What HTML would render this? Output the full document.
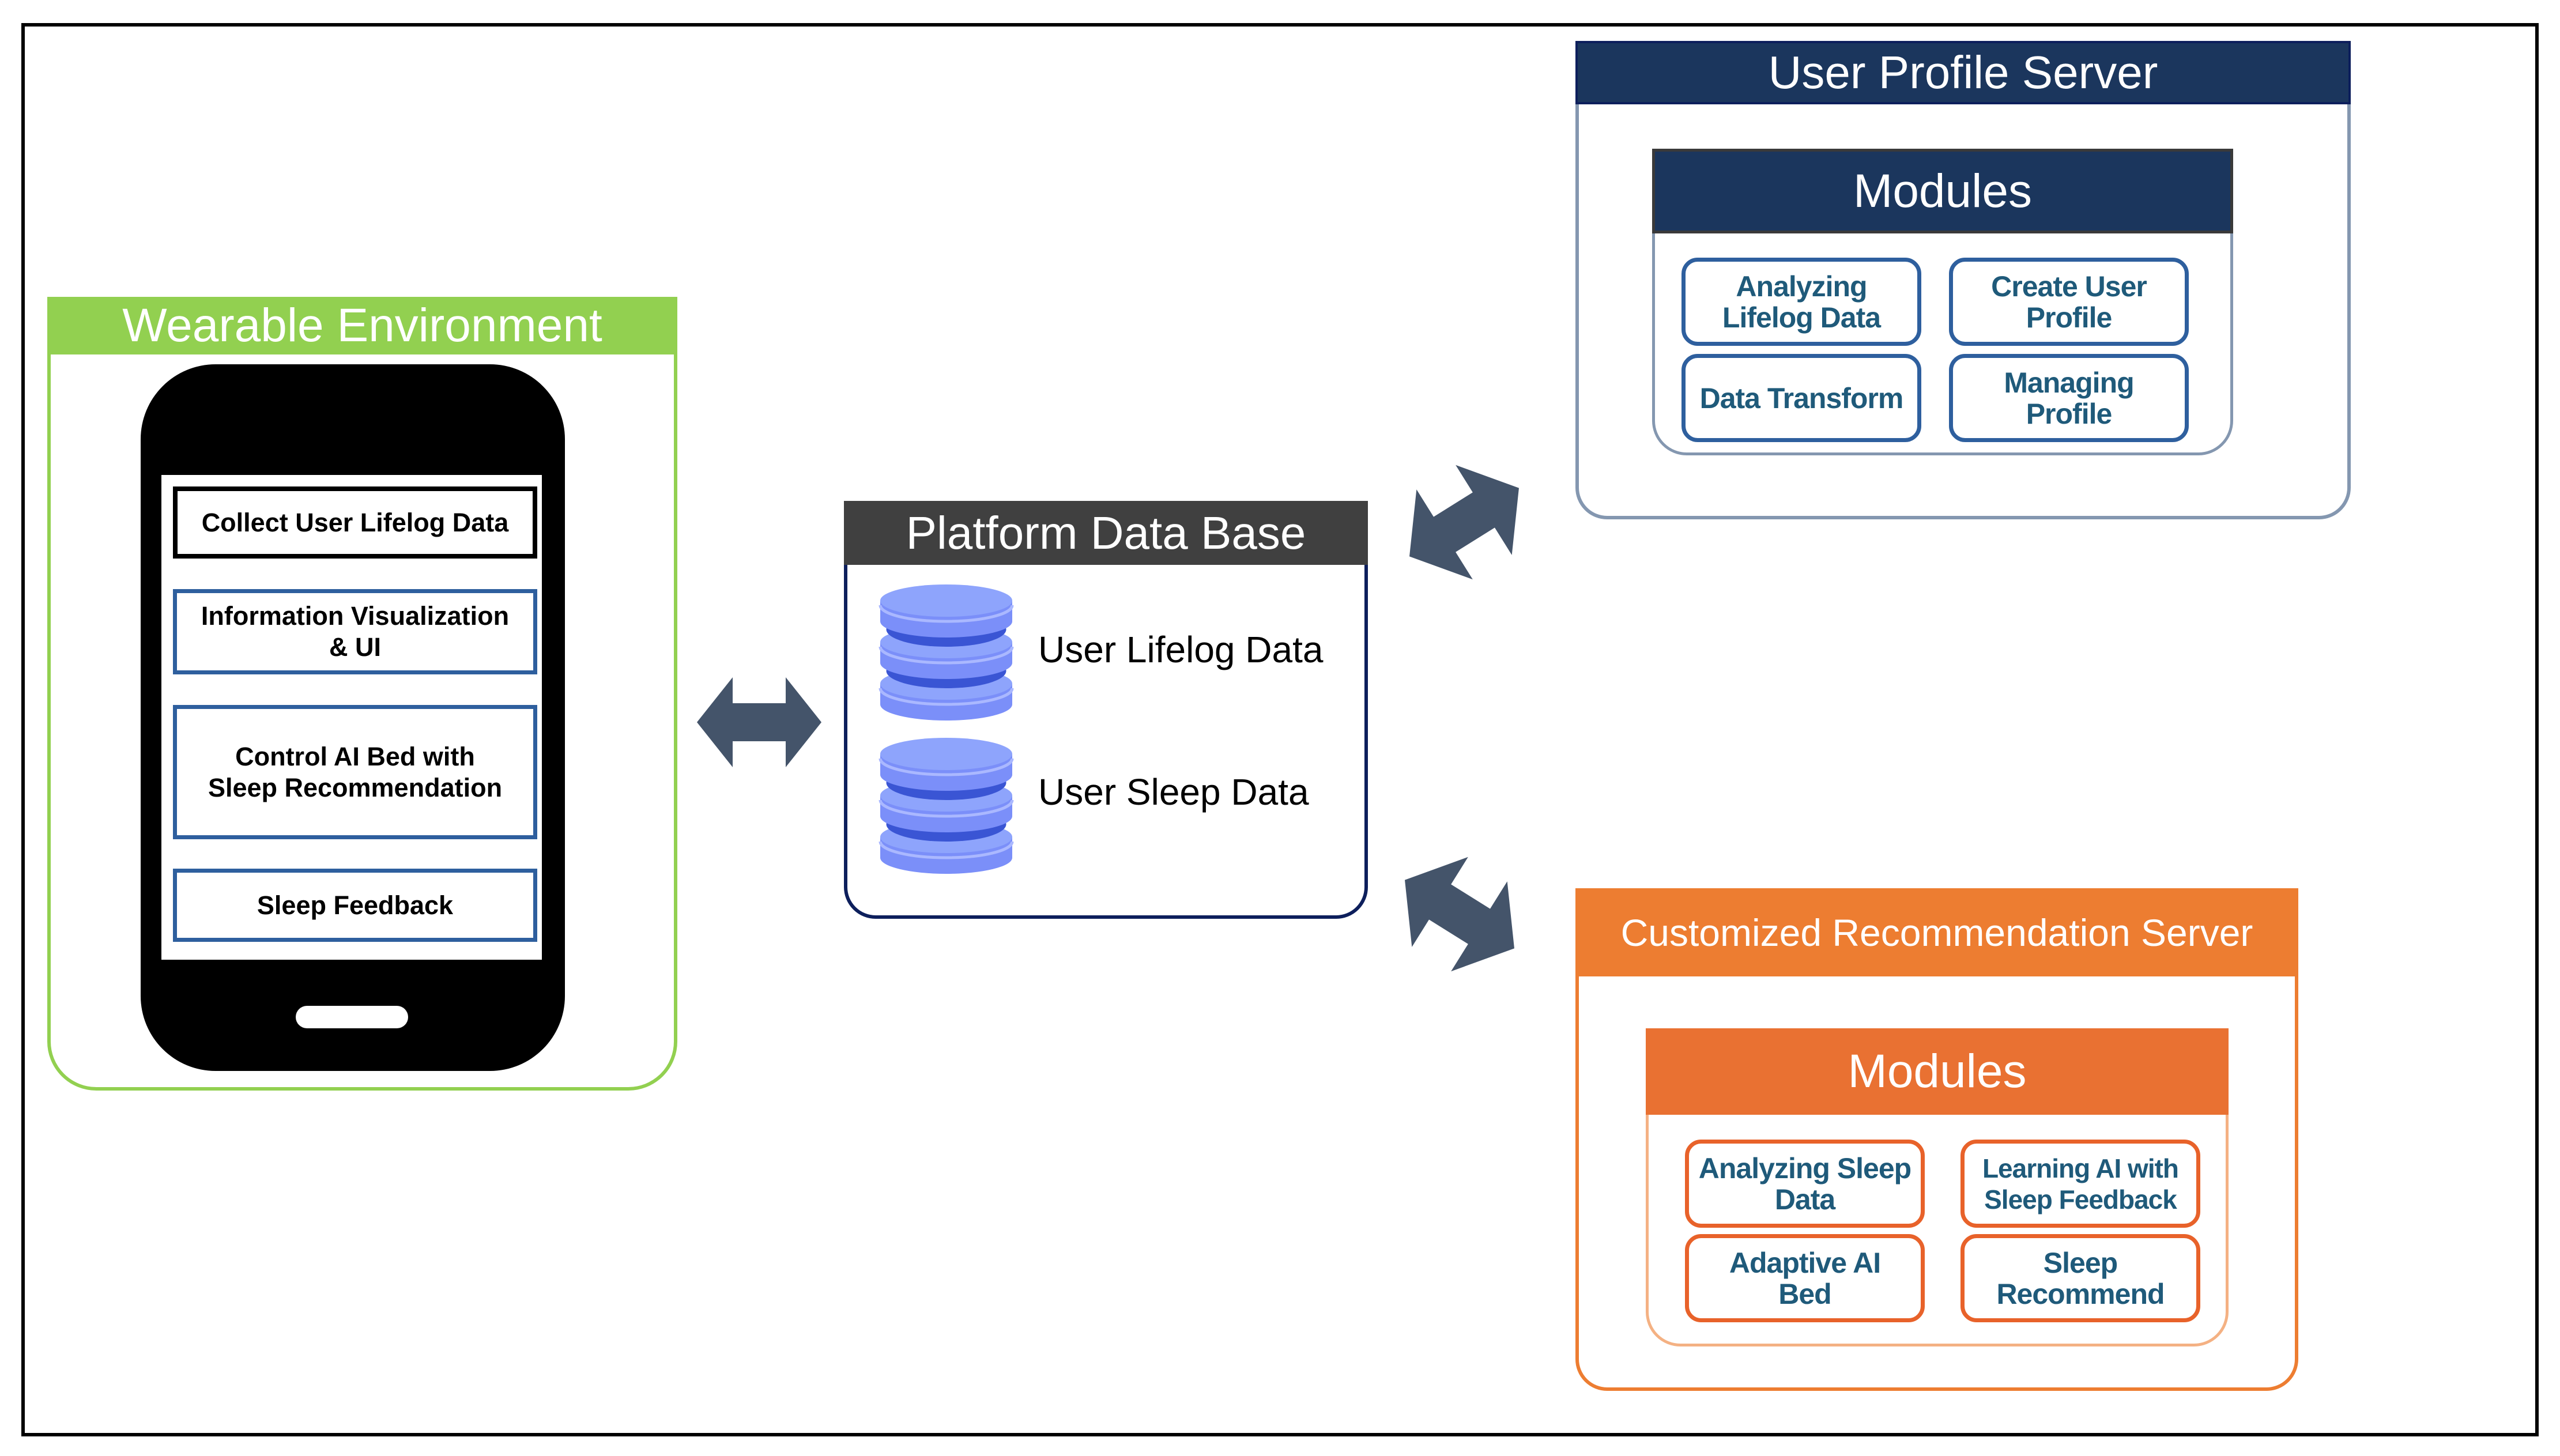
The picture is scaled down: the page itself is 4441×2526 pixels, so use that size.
<!DOCTYPE html>
<html><head><meta charset="utf-8"><style>
*{margin:0;padding:0;box-sizing:border-box}
body{width:4441px;height:2526px;background:#fff;position:relative;overflow:hidden;font-family:"Liberation Sans",sans-serif}
.a{position:absolute}
.c{display:flex;align-items:center;justify-content:center;text-align:center}
.pb{position:absolute;left:300px;width:632px;background:#fff;border:7px solid #2e5f9e;font-weight:bold;font-size:45px;line-height:54px;color:#000}
.mb{position:absolute;width:416px;height:153px;border:7px solid #2e5f9e;border-radius:28px;background:#fff;font-family:"Liberation Sans Narrow","Liberation Sans",sans-serif;font-weight:bold;font-size:50px;line-height:54px;color:#1f5a7a;letter-spacing:-1px}
.ob{border-color:#e8622a}
</style></head><body>
<div class="a" style="left:37px;top:40px;width:4367px;height:2452px;border:6px solid #000"></div>

<div class="a" style="left:82px;top:515px;width:1093px;height:1377px;border:6px solid #92d050;border-radius:0 0 85px 85px"></div>
<div class="a c" style="left:82px;top:515px;width:1093px;height:100px;background:#92d050;color:#fff;font-size:82px">Wearable Environment</div>
<div class="a" style="left:244px;top:632px;width:736px;height:1226px;background:#000;border-radius:130px"></div>
<div class="a" style="left:280px;top:824px;width:660px;height:841px;background:#fff"></div>
<div class="pb c" style="top:844px;height:125px;border-color:#000;border-width:8px">Collect User Lifelog Data</div>
<div class="pb c" style="top:1022px;height:148px">Information Visualization<br>&amp; UI</div>
<div class="pb c" style="top:1223px;height:233px">Control AI Bed with<br>Sleep Recommendation</div>
<div class="pb c" style="top:1507px;height:127px">Sleep Feedback</div>
<div class="a" style="left:513px;top:1745px;width:195px;height:39px;background:#fff;border-radius:20px"></div>

<div class="a" style="left:1464px;top:869px;width:909px;height:725px;border:6px solid #0d1f5c;border-radius:0 0 55px 55px"></div>
<div class="a c" style="left:1464px;top:869px;width:909px;height:111px;background:#404040;color:#fff;font-size:80px">Platform Data Base</div>
<div class="a" style="left:1801px;top:1082px;font-size:64px;line-height:90px;color:#000">User Lifelog Data</div>
<div class="a" style="left:1801px;top:1329px;font-size:64px;line-height:90px;color:#000">User Sleep Data</div>

<div class="a" style="left:2733px;top:71px;width:1345px;height:830px;border:6px solid #8497b0;border-radius:0 0 55px 55px"></div>
<div class="a c" style="left:2733px;top:71px;width:1345px;height:110px;background:#1b365d;border:4px solid #0d1f5c;color:#fff;font-size:80px">User Profile Server</div>
<div class="a" style="left:2866px;top:258px;width:1008px;height:532px;border:5px solid #8497b0;border-radius:0 0 60px 60px;background:#fff"></div>
<div class="a c" style="left:2866px;top:258px;width:1008px;height:147px;background:#1b365d;border:5px solid #3a3a3a;color:#fff;font-size:82px">Modules</div>
<div class="mb c" style="left:2917px;top:447px">Analyzing<br>Lifelog Data</div>
<div class="mb c" style="left:3381px;top:447px">Create User<br>Profile</div>
<div class="mb c" style="left:2917px;top:614px">Data Transform</div>
<div class="mb c" style="left:3381px;top:614px">Managing<br>Profile</div>

<div class="a" style="left:2733px;top:1541px;width:1254px;height:872px;border:6px solid #ed7d31;border-radius:0 0 55px 55px"></div>
<div class="a c" style="left:2733px;top:1541px;width:1254px;height:153px;background:#ed7d31;color:#fff;font-size:66px">Customized Recommendation Server</div>
<div class="a" style="left:2855px;top:1784px;width:1011px;height:552px;border:5px solid #f4b183;border-radius:0 0 60px 60px;background:#fff"></div>
<div class="a c" style="left:2855px;top:1784px;width:1011px;height:150px;background:#e97132;color:#fff;font-size:82px">Modules</div>
<div class="mb c ob" style="left:2923px;top:1977px">Analyzing Sleep<br>Data</div>
<div class="mb c ob" style="left:3401px;top:1977px;font-size:46px">Learning AI with<br>Sleep Feedback</div>
<div class="mb c ob" style="left:2923px;top:2141px">Adaptive AI<br>Bed</div>
<div class="mb c ob" style="left:3401px;top:2141px">Sleep<br>Recommend</div>

<svg class="a" style="left:0;top:0" width="4441" height="2526">
<defs>
<polygon id="ar" points="-108,0 -46,-78 -46,-33 46,-33 46,-78 108,0 46,78 46,33 -46,33 -46,78" fill="#44546a"/>
<polygon id="ar2" points="-112,0 -40,-92 -40,-36 40,-36 40,-92 112,0 40,92 40,36 -40,36 -40,92" fill="#44546a"/>
<g id="disc">
<path d="M0,0 L0,36 A114.5,28 0 0 0 229,36 L229,0 Z" fill="#7b8ff9"/>
<ellipse cx="114.5" cy="0" rx="114.5" ry="28" fill="#8ea4fc"/>
</g>
<g id="cyl">
<use href="#disc" transform="translate(0,172)"/>
<path d="M0,180 A114.5,28 0 0 0 229,180" fill="none" stroke="#aab8ff" stroke-width="5"/>
<ellipse cx="114.5" cy="150" rx="104" ry="30" fill="#3a55d4"/>
<use href="#disc" transform="translate(0,100)"/>
<path d="M0,108 A114.5,28 0 0 0 229,108" fill="none" stroke="#aab8ff" stroke-width="5"/>
<ellipse cx="114.5" cy="78" rx="104" ry="30" fill="#3a55d4"/>
<use href="#disc" transform="translate(0,28)"/>
<path d="M0,36 A114.5,28 0 0 0 229,36" fill="none" stroke="#aab8ff" stroke-width="5"/>
</g>
</defs>
<use href="#ar" transform="translate(1317,1253)"/>
<use href="#ar2" transform="translate(2540,906) rotate(-32)"/>
<use href="#ar2" transform="translate(2532,1586) rotate(32)"/>
<use href="#cyl" transform="translate(1527,1014)"/>
<use href="#cyl" transform="translate(1527,1280)"/>
</svg>
</body></html>
